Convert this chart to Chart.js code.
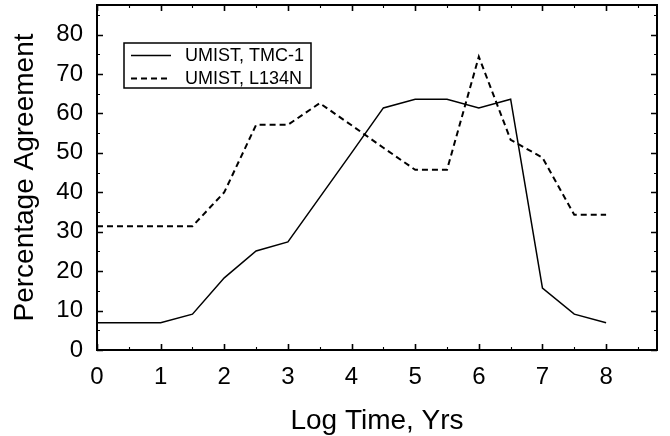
<!DOCTYPE html>
<html>
<head>
<meta charset="utf-8">
<script src="https://cdn.jsdelivr.net/npm/chart.js@4/dist/chart.umd.min.js"></script>
<style>
  html, body { margin: 0; padding: 0; background: #ffffff; }
  #wrap { width: 670px; height: 436px; }
</style>
</head>
<body>
<div id="wrap"><canvas id="c" width="670" height="436"></canvas></div>
<script>
// ---- data ----
const logTimes = [0, 0.5, 1, 1.5, 2, 2.5, 3, 3.5, 4, 4.5, 5, 5.5, 6, 6.5, 7, 7.5, 8];
const tmc1Agreement  = [6.9, 6.9, 6.9, 9.1, 18.3, 25.1, 27.4, 38.7, 50.0, 61.4, 63.6, 63.6, 61.4, 63.6, 15.7, 9.1, 6.9];
const l134nAgreement = [31.4, 31.4, 31.4, 31.4, 40.0, 57.1, 57.1, 62.6, 57.0, 51.3, 45.7, 45.7, 74.4, 53.3, 48.8, 34.3, 34.3];
const seriesLabels = ['UMIST, TMC-1', 'UMIST, L134N'];
const xTickLabels = ['0', '1', '2', '3', '4', '5', '6', '7', '8'];
const yTickLabels = ['0', '10', '20', '30', '40', '50', '60', '70', '80'];
const xTitle = 'Log Time, Yrs';
const yTitle = 'Percentage Agreement';

const FONT = '"Liberation Sans", Arial, Helvetica, sans-serif';

function toPoints(xs, ys) { return xs.map((x, i) => ({ x: x, y: ys[i] })); }

// frame + inward ticks + legend box
const framePlugin = {
  id: 'frameTicks',
  afterDatasetsDraw(chart) {
    const ctx = chart.ctx;
    const a = chart.chartArea;
    const xs = chart.scales.x, ys = chart.scales.y;
    ctx.save();
    ctx.strokeStyle = '#000';
    const majorLen = 6, minorLen = 3;
    for (let v = 0; v <= 8.5 + 1e-9; v += 0.5) {
      const px = Math.round(xs.getPixelForValue(v)) + 0.5;
      const major = Math.abs(v - Math.round(v)) < 1e-9;
      const len = major ? majorLen : minorLen;
      ctx.lineWidth = major ? 1.6 : 1.1;
      ctx.beginPath();
      ctx.moveTo(px, a.bottom); ctx.lineTo(px, a.bottom - len);
      ctx.moveTo(px, a.top); ctx.lineTo(px, a.top + len);
      ctx.stroke();
    }
    for (let v = 0; v <= 85 + 1e-9; v += 5) {
      const py = Math.round(ys.getPixelForValue(v)) + 0.5;
      const major = v % 10 === 0;
      const len = major ? majorLen : minorLen;
      ctx.lineWidth = major ? 1.6 : 1.1;
      ctx.beginPath();
      ctx.moveTo(a.left, py); ctx.lineTo(a.left + len, py);
      ctx.moveTo(a.right, py); ctx.lineTo(a.right - len, py);
      ctx.stroke();
    }
    // frame
    ctx.lineWidth = 2;
    ctx.strokeRect(a.left, a.top, a.right - a.left, a.bottom - a.top);

    // legend box
    const lx = 124, ly = 43, lw = 187, lh = 45;
    ctx.fillStyle = '#fff';
    ctx.fillRect(lx, ly, lw, lh);
    ctx.lineWidth = 1.5;
    ctx.strokeRect(lx, ly, lw, lh);
    const rows = [55.5, 78.5];
    chart.data.datasets.forEach((ds, i) => {
      ctx.beginPath();
      ctx.strokeStyle = ds.borderColor;
      ctx.lineWidth = ds.borderWidth;
      ctx.setLineDash(ds.borderDash || []);
      ctx.moveTo(131, rows[i]); ctx.lineTo(171, rows[i]);
      ctx.stroke();
      ctx.setLineDash([]);
      ctx.fillStyle = '#000';
      ctx.font = '18px ' + FONT;
      ctx.textBaseline = 'middle';
      ctx.textAlign = 'left';
      ctx.fillText(ds.label, 185, rows[i] + 1);
    });
    ctx.restore();
  }
};

new Chart(document.getElementById('c'), {
  type: 'line',
  data: {
    datasets: [
      {
        label: seriesLabels[0],
        data: toPoints(logTimes, tmc1Agreement),
        borderColor: '#000',
        borderWidth: 1.5,
        pointRadius: 0,
        tension: 0,
        fill: false
      },
      {
        label: seriesLabels[1],
        data: toPoints(logTimes, l134nAgreement),
        borderColor: '#000',
        borderWidth: 2,
        borderDash: [6, 4],
        pointRadius: 0,
        tension: 0,
        fill: false
      }
    ]
  },
  options: {
    responsive: false,
    animation: false,
    events: [],
    layout: { padding: { left: 0, right: 13, top: 5, bottom: 0 } },
    plugins: {
      legend: { display: false },
      tooltip: { enabled: false }
    },
    scales: {
      x: {
        type: 'linear',
        min: 0,
        max: 8.8,
        grid: { display: false, drawTicks: false },
        border: { display: false },
        ticks: {
          stepSize: 1,
          includeBounds: false,
          autoSkip: false,
          maxRotation: 0,
          padding: 13,
          color: '#000',
          font: { family: FONT, size: 24 },
          callback: (v) => xTickLabels[Math.round(v)] !== undefined && Math.abs(v - Math.round(v)) < 1e-9 ? xTickLabels[Math.round(v)] : ''
        },
        title: {
          display: true,
          text: xTitle,
          color: '#000',
          font: { family: FONT, size: 28, lineHeight: 1 },
          padding: { top: 0, bottom: 1 }
        },
        afterFit: (s) => { s.height = 86; s.paddingLeft = 0; s.paddingRight = 0; }
      },
      y: {
        type: 'linear',
        min: 0,
        max: 87.5,
        grid: { display: false, drawTicks: false },
        border: { display: false },
        ticks: {
          stepSize: 10,
          includeBounds: false,
          autoSkip: false,
          padding: 14,
          color: '#000',
          font: { family: FONT, size: 24 },
          callback: (v) => yTickLabels[Math.round(v / 10)] !== undefined ? yTickLabels[Math.round(v / 10)] : ''
        },
        title: {
          display: true,
          text: yTitle,
          color: '#000',
          font: { family: FONT, size: 28, lineHeight: 1 },
          padding: { top: 11, bottom: 0 }
        },
        afterFit: (s) => { s.width = 97; s.paddingTop = 0; s.paddingBottom = 0; }
      }
    }
  },
  plugins: [framePlugin]
});
</script>
</body>
</html>
